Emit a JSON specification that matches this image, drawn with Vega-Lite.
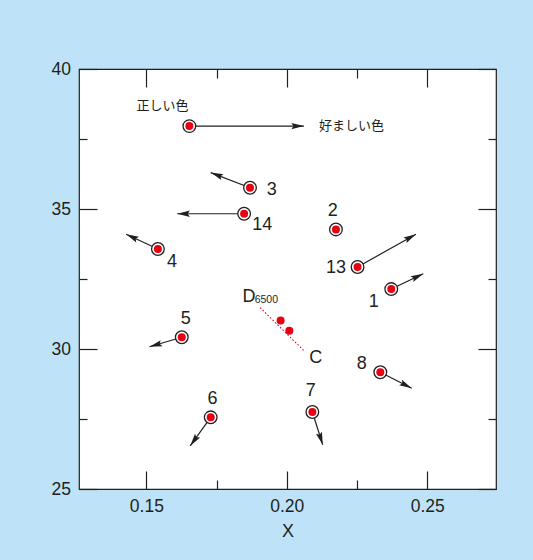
{
  "$schema": "https://vega.github.io/schema/vega-lite/v6.json",
  "width": 417,
  "height": 420,
  "autosize": "none",
  "padding": {"left": 79, "top": 69, "right": 37, "bottom": 71},
  "background": "#bee3f8",
  "config": {
    "view": {"fill": "white", "stroke": "#231f20", "strokeWidth": 1.2},
    "font": "Liberation Sans",
    "axis": {
      "domain": false,
      "grid": false,
      "tickColor": "#231f20",
      "tickWidth": 1.2,
      "tickSize": -18,
      "labelColor": "#231f20",
      "labelFontSize": 17.5,
      "labelFont": "Liberation Sans",
      "labelOverlap": false,
      "titleFont": "Liberation Sans",
      "titleFontWeight": "normal",
      "titleColor": "#231f20",
      "titleFontSize": 18
    }
  },
  "datasets": {
    "pts": [
      {"id": "ref", "x": 0.1653, "y": 37.96, "x2": 0.2061, "y2": 37.96},
      {"id": "1", "x": 0.2372, "y": 32.14, "x2": 0.2486, "y2": 32.69, "lx": 0.2310, "ly": 31.69},
      {"id": "2", "x": 0.2175, "y": 34.27, "lx": 0.2164, "ly": 34.93},
      {"id": "3", "x": 0.1869, "y": 35.76, "x2": 0.1729, "y2": 36.30, "lx": 0.1946, "ly": 35.67},
      {"id": "4", "x": 0.1541, "y": 33.57, "x2": 0.1428, "y2": 34.10, "lx": 0.1591, "ly": 33.10},
      {"id": "5", "x": 0.1626, "y": 30.42, "x2": 0.1511, "y2": 30.08, "lx": 0.1640, "ly": 31.07},
      {"id": "6", "x": 0.1729, "y": 27.56, "x2": 0.1656, "y2": 26.54, "lx": 0.1735, "ly": 28.21},
      {"id": "7", "x": 0.2091, "y": 27.75, "x2": 0.2128, "y2": 26.58, "lx": 0.2085, "ly": 28.50},
      {"id": "8", "x": 0.2333, "y": 29.17, "x2": 0.2445, "y2": 28.60, "lx": 0.2267, "ly": 29.45},
      {"id": "13", "x": 0.2252, "y": 32.93, "x2": 0.2460, "y2": 34.10, "lx": 0.2175, "ly": 32.88},
      {"id": "14", "x": 0.1848, "y": 34.83, "x2": 0.1610, "y2": 34.83, "lx": 0.1913, "ly": 34.43}
    ],
    "whites": [
      {"name": "D6500", "x": 0.1978, "y": 31.02},
      {"name": "C", "x": 0.2009, "y": 30.65}
    ],
    "locus": [
      {"x": 0.1905, "y": 31.48, "x2": 0.2065, "y2": 29.90}
    ],
    "notes": [
      {"t": "正しい色", "x": 0.1557, "y": 38.69, "kind": "jp"},
      {"t": "好ましい色", "x": 0.2230, "y": 37.96, "kind": "jp"},
      {"t": "D", "x": 0.18655, "y": 31.85, "kind": "big"},
      {"t": "6500", "x": 0.1927, "y": 31.75, "kind": "sub"},
      {"t": "C", "x": 0.2103, "y": 29.69, "kind": "big"}
    ]
  },
  "layer": [
    {
      "data": {"name": "pts"},
      "transform": [{"filter": "isValid(datum.x2)"}],
      "mark": {"type": "rule", "color": "#231f20", "strokeWidth": 1.2},
      "encoding": {
        "x": {
          "field": "x", "type": "quantitative",
          "scale": {"domain": [0.126, 0.2745], "nice": false, "zero": false},
          "axis": {
            "orient": "bottom",
            "values": [0.15, 0.175, 0.2, 0.225, 0.25],
            "title": "X",
            "labelPadding": 26,
            "titlePadding": 8,
            "labelExpr": "abs(datum.value*20-round(datum.value*20)) < 0.1 ? format(datum.value, '.2f') : ''",
            "tickDash": {"condition": {"test": "abs(datum.value*20-round(datum.value*20)) > 0.1", "value": [9, 40]}, "value": [40, 0]}
          }
        },
        "y": {
          "field": "y", "type": "quantitative",
          "scale": {"domain": [25, 40], "nice": false, "zero": false},
          "axis": {
            "orient": "left",
            "values": [25, 27.5, 30, 32.5, 35, 37.5, 40],
            "title": null,
            "labelPadding": 26.5,
            "labelExpr": "datum.value % 5 == 0 ? format(datum.value, 'd') : ''",
            "tickDash": {"condition": {"test": "datum.value % 5 != 0", "value": [8, 40]}, "value": [40, 0]}
          }
        },
        "x2": {"field": "x2"},
        "y2": {"field": "y2"}
      }
    },
    {
      "data": {"name": "pts"},
      "transform": [
        {"filter": "isValid(datum.x2)"},
        {"calculate": "atan2((datum.x2 - datum.x) * 2808, (datum.y2 - datum.y) * 28) * 180 / PI", "as": "angle"}
      ],
      "mark": {"type": "point", "shape": "M0,0L0.45,1.8L0,1.5L-0.45,1.8Z", "filled": true, "color": "#231f20", "size": 196, "opacity": 1},
      "encoding": {
        "x": {"field": "x2", "type": "quantitative", "axis": null},
        "y": {"field": "y2", "type": "quantitative", "axis": null},
        "angle": {"field": "angle", "type": "quantitative", "scale": null}
      }
    },
    {
      "data": {"name": "locus"},
      "mark": {"type": "rule", "color": "#e60012", "strokeWidth": 1.1, "strokeDash": [1.5, 2]},
      "encoding": {
        "x": {"field": "x", "type": "quantitative", "axis": null},
        "y": {"field": "y", "type": "quantitative", "axis": null},
        "x2": {"field": "x2"},
        "y2": {"field": "y2"}
      }
    },
    {
      "data": {"name": "pts"},
      "mark": {"type": "point", "shape": "circle", "filled": false, "fill": "white", "stroke": "#231f20", "strokeWidth": 1.3, "size": 160, "opacity": 1},
      "encoding": {
        "x": {
          "field": "x", "type": "quantitative",
          "axis": {
            "orient": "top",
            "values": [0.15, 0.175, 0.2, 0.225, 0.25],
            "labels": false,
            "title": null,
            "tickDash": {"condition": {"test": "abs(datum.value*20-round(datum.value*20)) > 0.1", "value": [9, 40]}, "value": [40, 0]}
          }
        },
        "y": {
          "field": "y", "type": "quantitative",
          "axis": {
            "orient": "right",
            "values": [25, 27.5, 30, 32.5, 35, 37.5, 40],
            "labels": false,
            "title": null,
            "tickDash": {"condition": {"test": "datum.value % 5 != 0", "value": [8, 40]}, "value": [40, 0]}
          }
        }
      }
    },
    {
      "data": {"name": "pts"},
      "mark": {"type": "point", "shape": "circle", "filled": true, "color": "#e60012", "size": 64, "opacity": 1},
      "encoding": {
        "x": {"field": "x", "type": "quantitative", "axis": null},
        "y": {"field": "y", "type": "quantitative", "axis": null}
      }
    },
    {
      "data": {"name": "whites"},
      "mark": {"type": "point", "shape": "circle", "filled": true, "color": "#e60012", "size": 64, "opacity": 1},
      "encoding": {
        "x": {"field": "x", "type": "quantitative", "axis": null},
        "y": {"field": "y", "type": "quantitative", "axis": null}
      }
    },
    {
      "data": {"name": "pts"},
      "transform": [{"filter": "isValid(datum.lx)"}],
      "mark": {"type": "text", "font": "Liberation Sans", "fontSize": 18, "color": "#231f20"},
      "encoding": {
        "x": {"field": "lx", "type": "quantitative", "axis": null},
        "y": {"field": "ly", "type": "quantitative", "axis": null},
        "text": {"field": "id"}
      }
    },
    {
      "data": {"name": "notes"},
      "transform": [{"filter": "datum.kind == 'jp'"}],
      "mark": {"type": "text", "font": "Noto Sans CJK JP", "fontSize": 13, "color": "#231f20"},
      "encoding": {
        "x": {"field": "x", "type": "quantitative", "axis": null},
        "y": {"field": "y", "type": "quantitative", "axis": null},
        "text": {"field": "t"}
      }
    },
    {
      "data": {"name": "notes"},
      "transform": [{"filter": "datum.kind == 'big'"}],
      "mark": {"type": "text", "font": "Liberation Sans", "fontSize": 18, "color": "#231f20"},
      "encoding": {
        "x": {"field": "x", "type": "quantitative", "axis": null},
        "y": {"field": "y", "type": "quantitative", "axis": null},
        "text": {"field": "t"}
      }
    },
    {
      "data": {"name": "notes"},
      "transform": [{"filter": "datum.kind == 'sub'"}],
      "mark": {"type": "text", "font": "Liberation Sans", "fontSize": 10.5, "color": "#231f20"},
      "encoding": {
        "x": {"field": "x", "type": "quantitative", "axis": null},
        "y": {"field": "y", "type": "quantitative", "axis": null},
        "text": {"field": "t"}
      }
    }
  ],
  "resolve": {"axis": {"x": "independent", "y": "independent"}}
}
